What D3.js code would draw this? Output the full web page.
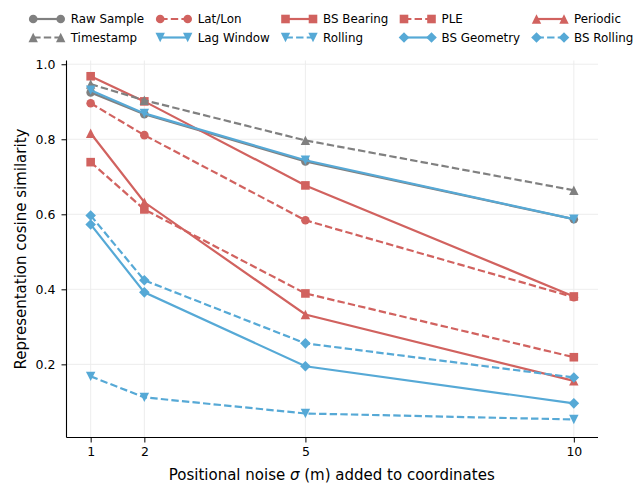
<!DOCTYPE html>
<html><head><meta charset="utf-8">
<script src="https://cdn.jsdelivr.net/npm/d3@7"></script>
<style>body{margin:0;background:#fff}svg{display:block}text{font-family:"DejaVu Sans",sans-serif;fill:#000}</style>
</head><body><svg id="c" width="635" height="484"></svg>
<script>
// ---- data ----
const noise = [1, 2, 5, 10];
const seriesNames = ["Raw Sample","Timestamp","Lat/Lon","Lag Window","BS Bearing","Rolling","PLE","BS Geometry","Periodic","BS Rolling"];
const rawSample  = [0.925, 0.867, 0.741, 0.587];
const timestamp  = [0.947, 0.904, 0.797, 0.664];
const latLon     = [0.896, 0.811, 0.584, 0.379];
const lagWindow  = [0.931, 0.869, 0.744, 0.587];
const bsBearing  = [0.968, 0.901, 0.677, 0.381];
const rolling    = [0.168, 0.112, 0.069, 0.053];
const ple        = [0.739, 0.613, 0.389, 0.219];
const bsGeometry = [0.573, 0.392, 0.195, 0.096];
const periodic   = [0.816, 0.632, 0.333, 0.156];
const bsRolling  = [0.597, 0.424, 0.256, 0.165];
const xTicks = [1, 2, 5, 10];
const yTicks = [0.2, 0.4, 0.6, 0.8, 1.0];

const GRAY = "#808080", RED = "#d1625f", BLUE = "#56a9d6";
const values = [rawSample,timestamp,latLon,lagWindow,bsBearing,rolling,ple,bsGeometry,periodic,bsRolling];
const styles = [
  {c:GRAY, d:false, m:"circle"},
  {c:GRAY, d:true,  m:"tri-up"},
  {c:RED,  d:true,  m:"circle"},
  {c:BLUE, d:false, m:"tri-down"},
  {c:RED,  d:false, m:"square"},
  {c:BLUE, d:true,  m:"tri-down"},
  {c:RED,  d:true,  m:"square"},
  {c:BLUE, d:false, m:"diamond"},
  {c:RED,  d:false, m:"tri-up"},
  {c:BLUE, d:true,  m:"diamond"}
];
const drawOrder = [0,2,4,1,3,5,6,7,8,9];

const svg = d3.select("#c");
svg.append("rect").attr("width",635).attr("height",484).attr("fill","#fff");
const L = 66.5, R = 598, T = 60.5, B = 437.5;
const x = d3.scaleLinear().domain([0.55, 10.45]).range([L, R]);
const y = d3.scaleLinear().domain([0.005, 1.01]).range([B, T]);

// grid
const g = svg.append("g");
g.selectAll(".gx").data(xTicks).join("line")
  .attr("x1",d=>x(d)).attr("x2",d=>x(d)).attr("y1",T).attr("y2",B)
  .attr("stroke","#ebebeb").attr("stroke-width",0.9);
g.selectAll(".gy").data(yTicks).join("line")
  .attr("y1",d=>y(d)).attr("y2",d=>y(d)).attr("x1",L).attr("x2",R)
  .attr("stroke","#ebebeb").attr("stroke-width",0.9);

function markerPath(type, cx, cy){
  const p = d3.path();
  if(type==="circle"){ p.arc(cx,cy,4.3,0,2*Math.PI); }
  else if(type==="square"){ p.rect(cx-4.3,cy-4.3,8.6,8.6); }
  else if(type==="tri-up"){ const s=4.7; p.moveTo(cx,cy-s); p.lineTo(cx-s,cy+s); p.lineTo(cx+s,cy+s); p.closePath(); }
  else if(type==="tri-down"){ const s=4.7; p.moveTo(cx,cy+s); p.lineTo(cx-s,cy-s); p.lineTo(cx+s,cy-s); p.closePath(); }
  else if(type==="diamond"){ const s=5.3; p.moveTo(cx,cy-s); p.lineTo(cx+s,cy); p.lineTo(cx,cy+s); p.lineTo(cx-s,cy); p.closePath(); }
  return p.toString();
}
const dash = "7.4,3.2";
const line = d3.line().x((d,i)=>x(noise[i])).y(d=>y(d));

const plot = svg.append("g");
drawOrder.forEach(k=>{
  const st = styles[k], vals = values[k];
  const gg = plot.append("g");
  gg.append("path").attr("d", line(vals)).attr("fill","none")
    .attr("stroke", st.c).attr("stroke-width", 2.2)
    .attr("stroke-dasharray", st.d ? dash : null);
  gg.selectAll("path.m").data(vals).join("path").attr("class","m")
    .attr("d",(d,i)=>markerPath(st.m, x(noise[i]), y(d))).attr("fill", st.c);
});

// axes
const xa = svg.append("g").attr("transform",`translate(0,${B})`)
  .call(d3.axisBottom(x).tickValues(xTicks).tickFormat(d3.format("d")).tickSize(5).tickPadding(5));
const ya = svg.append("g").attr("transform",`translate(${L},0)`)
  .call(d3.axisLeft(y).tickValues(yTicks).tickFormat(d3.format(".1f")).tickSize(5).tickPadding(6));
xa.select(".domain").attr("d",`M${L},0H${R}`);
ya.select(".domain").attr("d",`M0,${B}V${T}`);
[xa,ya].forEach(a=>{
  a.selectAll(".domain").attr("stroke","#000").attr("stroke-width",1.1);
  a.selectAll(".tick line").attr("stroke","#000").attr("stroke-width",1);
  a.selectAll(".tick text").attr("font-size","12.5px").attr("font-family","DejaVu Sans").attr("fill","#000");
});

// axis labels
const xl = svg.append("text").attr("x",(L+R)/2 - 0.5).attr("y",479.5).attr("text-anchor","middle").attr("font-size","15px");
xl.append("tspan").text("Positional noise ");
xl.append("tspan").attr("font-style","italic").text("σ");
xl.append("tspan").text(" (m) added to coordinates");
svg.append("text").attr("transform",`translate(25.5,${(T+B)/2}) rotate(-90)`)
  .attr("text-anchor","middle").attr("font-size","15px").text("Representation cosine similarity");

// legend
const colX = [70.7, 197.7, 323, 441.5, 574];
const rowY = [19, 37.5];
const leg = svg.append("g");
seriesNames.forEach((name,k)=>{
  const col = Math.floor(k/2), row = k%2;
  const tx = colX[col], cy = rowY[row], st = styles[k];
  const x1 = tx-37.5, x2 = tx-10;
  leg.append("line").attr("x1",x1).attr("x2",x2).attr("y1",cy).attr("y2",cy)
    .attr("stroke",st.c).attr("stroke-width",2.2).attr("stroke-dasharray", st.d?dash:null);
  [x1,x2].forEach(mx=>leg.append("path").attr("d",markerPath(st.m,mx,cy)).attr("fill",st.c));
  leg.append("text").attr("x",tx).attr("y",cy).attr("dy","0.36em").attr("font-size","11.9px").text(name);
});
</script></body></html>
